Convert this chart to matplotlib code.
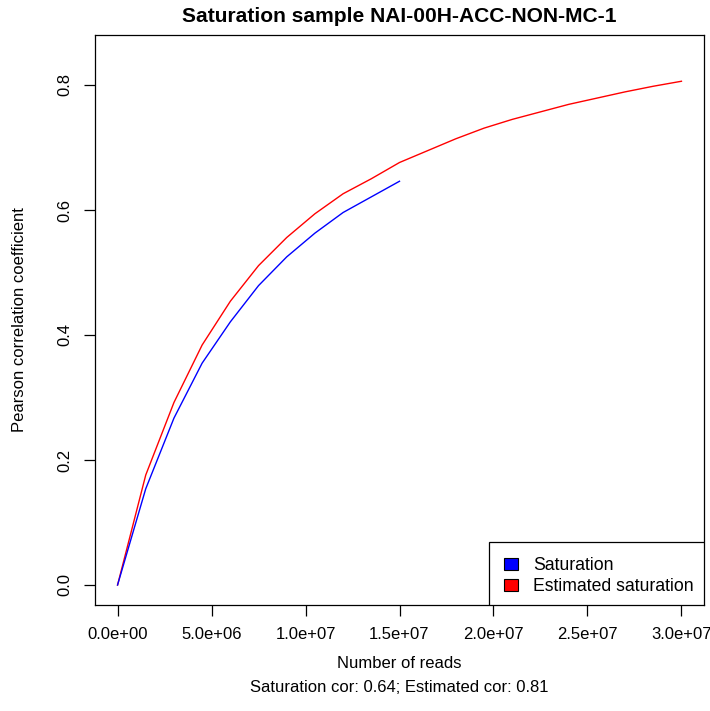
import matplotlib
matplotlib.use("Agg")
import matplotlib.pyplot as plt
from matplotlib.patches import Patch, Rectangle

plt.rcParams['font.family'] = ['Liberation Sans', 'DejaVu Sans']

# Subsampled read counts and observed correlation
reads_obs = [0, 1.5e6, 3.0e6, 4.5e6, 6.0e6, 7.5e6, 9.0e6, 1.05e7, 1.2e7, 1.35e7, 1.5e7]
cor_obs = [0.0, 0.154, 0.267, 0.355, 0.421, 0.479, 0.525, 0.563, 0.596, 0.621, 0.646]

# Read counts and estimated correlation (extrapolated to twice the depth)
reads_est = [0, 1.5e6, 3.0e6, 4.5e6, 6.0e6, 7.5e6, 9.0e6, 1.05e7, 1.2e7, 1.35e7, 1.5e7,
             1.65e7, 1.8e7, 1.95e7, 2.1e7, 2.25e7, 2.4e7, 2.55e7, 2.7e7, 2.85e7, 3.0e7]
cor_est = [0.0, 0.176, 0.292, 0.384, 0.454, 0.511, 0.556, 0.594, 0.626, 0.650, 0.676,
           0.695, 0.714, 0.731, 0.745, 0.757, 0.769, 0.779, 0.789, 0.798, 0.806]

x_ticks = [0, 5e6, 1e7, 1.5e7, 2e7, 2.5e7, 3e7]
x_labels = ["0.0e+00", "5.0e+06", "1.0e+07", "1.5e+07", "2.0e+07", "2.5e+07", "3.0e+07"]
y_ticks = [0.0, 0.2, 0.4, 0.6, 0.8]
y_labels = ["0.0", "0.2", "0.4", "0.6", "0.8"]

sample = "NAI-00H-ACC-NON-MC-1"
sat_cor = 0.64
est_cor = 0.81

W, H = 710, 711
fig = plt.figure(figsize=(W / 100, H / 100), dpi=100)
ax = fig.add_axes([95 / W, 1 - 605 / H, (704 - 95) / W, (605 - 35) / H])

ax.plot(reads_est, cor_est, color="red", lw=1.0)
ax.plot(reads_obs, cor_obs, color="blue", lw=1.0)

ax.set_xlim(-1.2e6, 3.12e7)
ax.set_ylim(-0.032, 0.88)

ax.set_xticks(x_ticks)
ax.set_xticklabels(x_labels)
ax.set_yticks(y_ticks)
ax.set_yticklabels(y_labels, rotation=90, va="center")

ax.tick_params(axis="both", direction="out", length=8, width=0.9, labelsize=12, pad=8, colors="black")
for s in ax.spines.values():
    s.set_linewidth(0.9)

cx = 0.5 * (95 + 704) / W
fig.text(cx, 1 - 17 / H, f"Saturation sample {sample}",
         ha="center", va="center", fontsize=15.1, fontweight="bold")
fig.text(cx, 1 - 663 / H, "Number of reads", ha="center", va="center", fontsize=12)
fig.text(cx, 1 - 687 / H,
         f"Saturation cor: {sat_cor:.2f}; Estimated cor: {est_cor:.2f}",
         ha="center", va="center", fontsize=12)
fig.text(20 / W, 1 - 320 / H, "Pearson correlation coefficient", rotation=90,
         ha="center", va="center", fontsize=12)

# Legend box in the bottom-right corner, entries drawn without their own frame
ax.add_patch(Rectangle((0.647, 0.0), 0.353, 0.1105, transform=ax.transAxes,
                       facecolor="white", edgecolor="black", lw=0.9, zorder=4))
handles = [Patch(facecolor="blue", edgecolor="black", lw=0.8, label="Saturation"),
           Patch(facecolor="red", edgecolor="black", lw=0.8, label="Estimated saturation")]
leg = ax.legend(handles=handles, loc="lower right", bbox_to_anchor=(1.006, -0.008),
                prop={"size": 12.7}, frameon=False,
                borderaxespad=0, handlelength=0.8, handleheight=0.63, handletextpad=0.86,
                borderpad=0.8, labelspacing=0.25)
leg.set_zorder(5)

fig.savefig("out.png", dpi=100)
